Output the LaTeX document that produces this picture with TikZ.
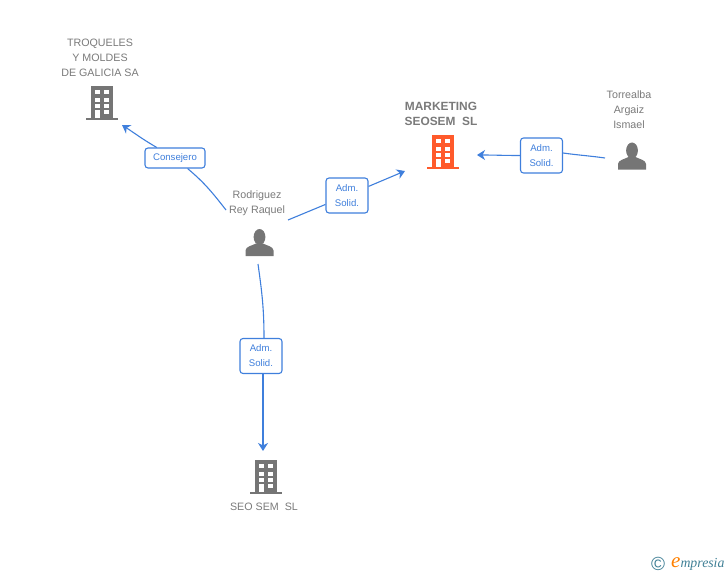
\documentclass[tikz,border=0pt]{standalone}
\usepackage{fontspec}
\setmainfont{Liberation Sans}
\newfontfamily\logofont{Liberation Serif}
\usetikzlibrary{arrows.meta}
\definecolor{linkblue}{HTML}{3F7FDC}
\definecolor{icongray}{HTML}{757575}
\definecolor{iconred}{HTML}{FF5A2B}
\definecolor{labelgray}{HTML}{7A7A7A}
\definecolor{logoteal}{HTML}{3F7F95}
\tikzset{
    firm/.style={text=labelgray, align=center, font=\fontsize{10.7}{15}\selectfont},
    rolebox/.style={draw=linkblue, line width=1.1pt, rounded corners=3pt, fill=white, text=linkblue, align=center, inner sep=0pt, font=\fontsize{9.6}{15}\selectfont},
    link/.style={draw=linkblue, line width=1.1pt},
    tip/.style={-{Stealth[length=8pt,width=10pt,inset=2.5pt]}},
    buildingicon/.pic={
        \fill [#1] (-11,-17) rectangle (11,15);
        \fill [#1] (-16,15) rectangle (16,17);
        \foreach \row in {-13,-5,1,7} {
            \fill [white] (-7,\row) rectangle (-2.5,\row+4);
            \fill [white] (2,\row) rectangle (7,\row+4);
        }
        \fill [white] (-7,11) rectangle (-2.5,15);
    },
    personicon/.pic={
        \fill [icongray] (0,-5.5) ellipse (5.9 and 8);
        \fill [icongray] (-14,13.5) -- (-14,8) .. controls (-14,4) and (-7,3) .. (-3.5,1) -- (3.5,1) .. controls (7,3) and (14,4) .. (14,8) -- (14,13.5) -- cycle;
    }
}
\begin{document}
\begin{tikzpicture}[x=1pt,y=-1pt]
    \useasboundingbox (0,0) rectangle (728,575);

    % Companies
    \pic at (102,103) {buildingicon=icongray};
    \pic at (443,152) {buildingicon=iconred};
    \pic at (266,477) {buildingicon=icongray};
    \node [firm] (troqueles) at (100,57.7) {TROQUELES\\Y MOLDES\\DE GALICIA SA};
    \node [firm, font=\fontsize{11.9}{15}\selectfont] (marketing) at (441,113.5) {\textbf{MARKETING}\\\textbf{SEOSEM\ \ SL}};
    \node [firm] (seosem) at (264,506.5) {SEO SEM\ \ SL};

    % People
    \pic at (259.5,242.5) {personicon};
    \pic at (632,156) {personicon};
    \node [firm] (rodriguez) at (257,203) {Rodriguez\\Rey Raquel};
    \node [firm] (torrealba) at (629,109.5) {Torrealba\\Argaiz\\Ismael};

    % Role boxes
    \node [rolebox, minimum width=60pt, minimum height=20pt] (consejero) at (175,158) {Consejero};
    \node [rolebox, minimum width=42pt, minimum height=35pt] (admrodriguez) at (347,195.5) {Adm.\\Solid.};
    \node [rolebox, minimum width=42pt, minimum height=35pt] (admtorrealba) at (541.5,155.5) {Adm.\\Solid.};
    \node [rolebox, minimum width=42pt, minimum height=35pt] (admseosem) at (261,356) {Adm.\\Solid.};

    % Free ends of the connectors
    \coordinate (fromrodriguezleft) at (226,210);
    \coordinate (fromrodriguezright) at (288,220);
    \coordinate (fromrodriguezdown) at (258,264);
    \coordinate (fromtorrealba) at (605,158);
    \coordinate (totroqueles) at (122,125);
    \coordinate (tomarketingleft) at (405,171);
    \coordinate (tomarketingright) at (477,155);
    \coordinate (toseosem) at (263,451);

    % Connectors
    \draw [link] (fromrodriguezleft) to [out=128,in=-40] (consejero);
    \draw [link,tip] (consejero) to [out=150,in=-33] (totroqueles);
    \draw [link] (fromrodriguezright) -- (admrodriguez);
    \draw [link,tip] (admrodriguez) -- (tomarketingleft);
    \draw [link] (fromtorrealba) to [out=172,in=-8] ([yshift=2.5pt]admtorrealba.east);
    \draw [link,tip] (admtorrealba) to [out=180,in=0] (tomarketingright);
    \draw [link] (fromrodriguezdown) to [out=-82,in=90] ([xshift=3pt]admseosem.north);
    \draw [link,tip] ([xshift=2pt]admseosem.south) to [out=-90,in=90] (toseosem);

    % Logo
    \node [inner sep=0pt, text=logoteal, font=\fontsize{19}{19}\selectfont] (copyright) at (658,564) {\textcopyright};
    \node [inner sep=0pt, anchor=west, font=\logofont\itshape\fontsize{13.8}{13.8}\selectfont, text=logoteal] (brand) at (671,564) {{\color{orange}\fontsize{21}{21}\selectfont e}mpresia};
\end{tikzpicture}
\end{document}
